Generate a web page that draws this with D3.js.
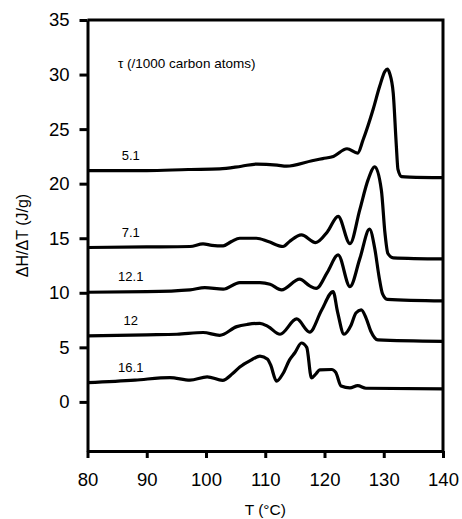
<!DOCTYPE html>
<html>
<head>
<meta charset="utf-8">
<script src="https://cdn.jsdelivr.net/npm/d3@7"></script>
<style>
  html, body { margin: 0; padding: 0; background: #fff; }
  svg { display: block; font-family: "Liberation Sans", Arial, sans-serif; }
</style>
</head>
<body>
<svg id="chart" width="462" height="519"></svg>
<script>
// DSC heating traces, ΔH/ΔT (J/g) against temperature T (°C)
const seriesNames = ["5.1", "7.1", "12.1", "12", "16.1"];

const tempS51 = [80, 90, 97, 102.3, 106, 108.6, 112, 113.6, 117.9, 119.7, 121.5, 123.8, 125.6, 126.5, 128.2, 129.3, 130.2, 130.6, 131.0, 131.6, 132.1, 132.4, 133.0, 134.4, 140];
const heatS51 = [21.2, 21.2, 21.3, 21.35, 21.6, 21.8, 21.7, 21.6, 22.1, 22.3, 22.5, 23.2, 22.8, 24.0, 26.8, 28.9, 30.3, 30.5, 30.1, 28.3, 23.7, 21.3, 20.65, 20.6, 20.55];

const tempS71 = [80, 90, 97.3, 99.5, 101, 102.9, 104.3, 105.7, 108.5, 110.5, 113.0, 114.1, 116.1, 118.5, 120.5, 122.3, 124.3, 125.95, 127.35, 128.5, 129.6, 130.2, 130.7, 131.6, 140];
const heatS71 = [14.15, 14.2, 14.24, 14.48, 14.35, 14.3, 14.7, 15.0, 15.0, 14.7, 14.24, 14.7, 15.3, 14.6, 15.6, 17.0, 14.5, 17.6, 20.35, 21.55, 19.4, 15.5, 13.6, 13.2, 13.1];

const tempS121 = [80, 90, 97.3, 99.8, 102.9, 105.7, 109.1, 110.8, 112.75, 115.8, 117.5, 118.6, 120.5, 122.3, 124.3, 126.0, 127.6, 128.5, 129.2, 129.8, 130.6, 140];
const heatS121 = [10.05, 10.1, 10.27, 10.48, 10.33, 10.94, 10.94, 10.79, 10.27, 11.25, 10.63, 10.4, 11.9, 13.47, 10.57, 13.2, 15.83, 14.0, 11.5, 9.9, 9.4, 9.26];

const tempS12 = [80, 90, 95.1, 99.5, 102.3, 105.2, 107, 109.1, 110.5, 112.5, 115.3, 117.5, 119.5, 121.45, 122.2, 123.3, 124.5, 125.3, 126.2, 127.0, 127.8, 129.0, 140];
const heatS12 = [6.05, 6.15, 6.2, 6.36, 6.1, 6.9, 7.1, 7.2, 6.9, 6.2, 7.6, 6.4, 8.4, 10.11, 8.25, 6.2, 7.05, 8.15, 8.43, 7.7, 6.5, 5.68, 5.55];

const tempS161 = [80, 88, 93.9, 97.3, 100.2, 102.8, 104.5, 105.7, 107.5, 109.1, 110.4, 110.9, 111.9, 113, 114.1, 115.0, 116.1, 117.0, 117.8, 118.6, 119.2, 121.2, 121.9, 122.8, 124.3, 125.6, 127.0, 140];
const heatS161 = [1.77, 2.0, 2.23, 2.0, 2.3, 1.97, 2.6, 3.2, 3.8, 4.2, 3.9, 3.4, 1.9, 2.6, 3.85, 4.5, 5.4, 5.0, 2.2, 2.6, 2.93, 2.97, 2.7, 1.45, 1.28, 1.49, 1.25, 1.2];

const xTicks = [80, 90, 100, 110, 120, 130, 140];
const yTicks = [0, 5, 10, 15, 20, 25, 30, 35];

const legendTitle = "τ (/1000 carbon atoms)";
const xTitle = "T (°C)";
const yTitle = "ΔH/ΔT (J/g)";

const temps = [tempS51, tempS71, tempS121, tempS12, tempS161];
const heats = [heatS51, heatS71, heatS121, heatS12, heatS161];
const series = seriesNames.map((name, i) => ({
  name,
  points: temps[i].map((t, j) => ({ t, v: heats[i][j] }))
}));

const svg = d3.select("#chart");
const plot = { left: 87.5, right: 443, top: 20, bottom: 451 };

const x = d3.scaleLinear().domain([80, 140]).range([plot.left, plot.right]);
const y = d3.scaleLinear().domain([-4.5, 35]).range([plot.bottom, plot.top]);

// frame: top and right edges
svg.append("path")
  .attr("d", `M${plot.left},${plot.top}H${plot.right}V${plot.bottom}`)
  .attr("fill", "none").attr("stroke", "#000").attr("stroke-width", 3);

const xAxis = svg.append("g")
  .attr("transform", `translate(0,${plot.bottom})`)
  .call(d3.axisBottom(x).tickValues(xTicks).tickFormat(d3.format("d"))
    .tickSize(7).tickSizeOuter(0).tickPadding(15));

const yAxis = svg.append("g")
  .attr("transform", `translate(${plot.left},0)`)
  .call(d3.axisLeft(y).tickValues(yTicks).tickFormat(d3.format("d"))
    .tickSize(8).tickSizeOuter(0).tickPadding(10));

[xAxis, yAxis].forEach(g => {
  g.select(".domain").attr("stroke-width", 3);
  g.selectAll(".tick line").attr("stroke-width", 3);
  g.selectAll(".tick text")
    .attr("font-family", "Liberation Sans, Arial, sans-serif")
    .attr("font-size", 18.5).attr("fill", "#000");
});

// traces
const line = d3.line()
  .x(d => x(d.t))
  .y(d => y(d.v))
  .curve(d3.curveMonotoneX);

svg.append("g").selectAll("path")
  .data(series)
  .join("path")
  .attr("d", d => line(d.points))
  .attr("fill", "none")
  .attr("stroke", "#000")
  .attr("stroke-width", 3.2)
  .attr("stroke-linejoin", "round");

// trace labels above each baseline
svg.append("g").selectAll("text")
  .data(series)
  .join("text")
  .attr("x", x(87.3))
  .attr("y", d => y(d.points[0].v) - 11)
  .attr("text-anchor", "middle")
  .attr("font-size", 13)
  .text(d => d.name);

svg.append("text")
  .attr("x", 118).attr("y", 68)
  .attr("font-size", 13.5)
  .text(legendTitle);

svg.append("text")
  .attr("x", (plot.left + plot.right) / 2).attr("y", 515)
  .attr("text-anchor", "middle")
  .attr("font-size", 15.5)
  .text(xTitle);

svg.append("text")
  .attr("transform", `translate(28,${(plot.top + plot.bottom) / 2}) rotate(-90)`)
  .attr("text-anchor", "middle")
  .attr("font-size", 16)
  .text(yTitle);
</script>
</body>
</html>
